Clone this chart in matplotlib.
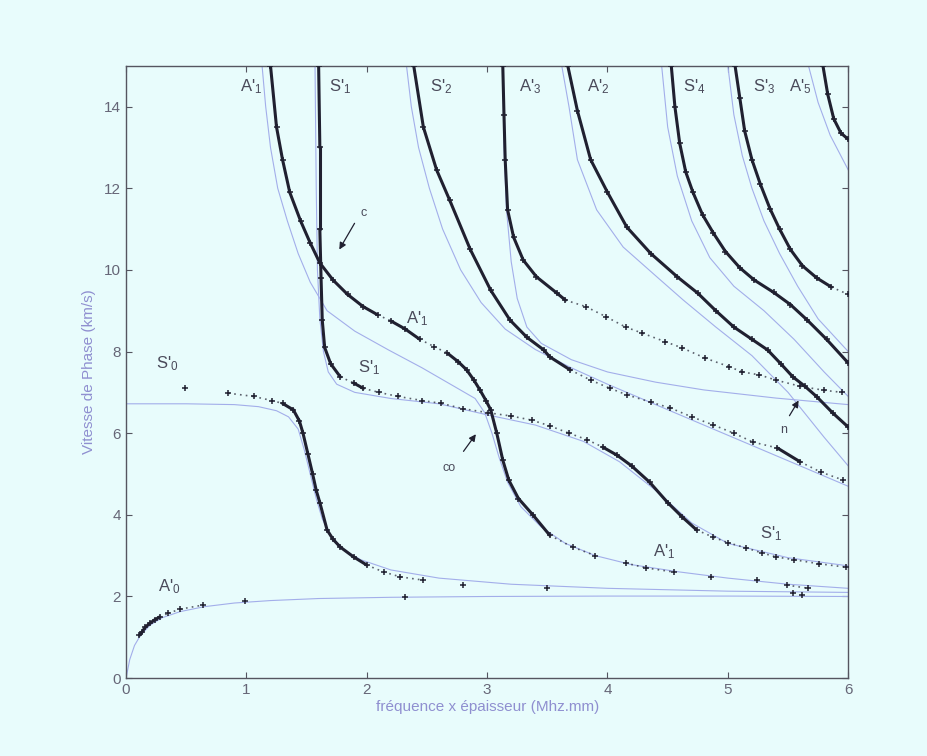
import matplotlib
matplotlib.use("Agg")
import matplotlib.pyplot as plt
import numpy as np

plt.rcParams["font.family"] = ["Liberation Sans", "DejaVu Sans"]
plt.rcParams["mathtext.default"] = "regular"

BG = "#e8fcfc"
INK = "#202030"
BLUE = "#a3aeea"

# --- black "+" branches (measured / model 1) ---
a0_x = [0.11, 0.13, 0.16, 0.20, 0.24, 0.28, 0.35, 0.45, 0.64, 0.99]
a0_y = [1.05, 1.12, 1.25, 1.35, 1.43, 1.50, 1.59, 1.69, 1.79, 1.88]
a0_extra_x = [2.32, 5.62]
a0_extra_y = [1.99, 2.03]

s0_x = [0.49, 0.85, 1.06, 1.21, 1.30, 1.39, 1.44, 1.47, 1.51, 1.55, 1.58, 1.61,
        1.67, 1.72, 1.78, 1.89, 2.00, 2.14, 2.28, 2.47, 2.80]
s0_y = [7.10, 6.98, 6.90, 6.80, 6.73, 6.57, 6.30, 6.00, 5.50, 5.00, 4.60, 4.30,
        3.63, 3.40, 3.21, 2.97, 2.77, 2.60, 2.48, 2.40, 2.28]
s0_extra_x = [3.50, 5.54]
s0_extra_y = [2.20, 2.08]

a1_x = [1.20, 1.25, 1.30, 1.36, 1.45, 1.53, 1.61, 1.72, 1.84, 1.97, 2.09, 2.20,
        2.32, 2.44, 2.56, 2.67, 2.76, 2.83, 2.89, 2.94, 2.99, 3.03, 3.08, 3.13,
        3.18, 3.26, 3.38, 3.52, 3.71, 3.90, 4.15, 4.32, 4.55, 4.86, 5.24, 5.49, 5.67]
a1_y = [15.0, 13.5, 12.7, 11.9, 11.2, 10.66, 10.17, 9.75, 9.40, 9.10, 8.90, 8.75,
        8.55, 8.30, 8.12, 7.96, 7.75, 7.55, 7.30, 7.06, 6.80, 6.57, 6.00, 5.34,
        4.85, 4.40, 4.00, 3.50, 3.21, 3.00, 2.82, 2.70, 2.60, 2.48, 2.40, 2.28, 2.20]

s1_x = [1.60, 1.61, 1.61, 1.62, 1.63, 1.65, 1.70, 1.78, 1.89, 1.97, 2.10, 2.26,
        2.46, 2.62, 2.80, 3.01, 3.20, 3.37, 3.52, 3.68, 3.83, 3.96, 4.08, 4.20,
        4.35, 4.50, 4.62, 4.74, 4.88, 5.00, 5.15, 5.28, 5.40, 5.55, 5.76, 5.98]
s1_y = [15.0, 13.0, 11.0, 9.80, 8.77, 8.10, 7.70, 7.38, 7.23, 7.10, 7.00, 6.90,
        6.80, 6.73, 6.60, 6.50, 6.42, 6.32, 6.18, 6.00, 5.84, 5.66, 5.46, 5.20,
        4.80, 4.30, 3.95, 3.63, 3.45, 3.32, 3.19, 3.07, 2.97, 2.90, 2.80, 2.72]

s2_x = [2.39, 2.47, 2.58, 2.69, 2.86, 3.03, 3.19, 3.33, 3.47, 3.52, 3.69, 3.86,
        4.02, 4.16, 4.36, 4.52, 4.70, 4.88, 5.05, 5.21, 5.41, 5.60, 5.77, 5.96]
s2_y = [15.0, 13.5, 12.45, 11.7, 10.5, 9.50, 8.77, 8.35, 8.04, 7.87, 7.55, 7.30,
        7.10, 6.94, 6.76, 6.62, 6.40, 6.20, 6.00, 5.78, 5.64, 5.30, 5.05, 4.85]

a3_x = [3.13, 3.14, 3.15, 3.17, 3.22, 3.30, 3.41, 3.58, 3.65, 3.82, 3.99, 4.15,
        4.29, 4.48, 4.62, 4.81, 5.01, 5.12, 5.26, 5.40, 5.60, 5.80, 5.95]
a3_y = [15.0, 13.8, 12.7, 11.47, 10.8, 10.24, 9.83, 9.43, 9.26, 9.10, 8.85, 8.60,
        8.45, 8.24, 8.09, 7.84, 7.63, 7.50, 7.43, 7.30, 7.15, 7.05, 7.00]

a2_x = [3.67, 3.75, 3.86, 4.00, 4.16, 4.36, 4.58, 4.75, 4.90, 5.05, 5.20, 5.33,
        5.44, 5.54, 5.64, 5.74, 5.87, 6.00]
a2_y = [15.0, 13.9, 12.7, 11.9, 11.05, 10.4, 9.83, 9.43, 9.00, 8.60, 8.30, 8.04,
        7.70, 7.38, 7.15, 6.89, 6.50, 6.15]

s4_x = [4.53, 4.56, 4.60, 4.65, 4.71, 4.79, 4.88, 4.98, 5.10, 5.22, 5.38, 5.52,
        5.66, 5.82, 6.00]
s4_y = [15.0, 14.0, 13.1, 12.4, 11.9, 11.35, 10.9, 10.45, 10.05, 9.75, 9.45, 9.15,
        8.77, 8.30, 7.72]

s3_x = [5.06, 5.10, 5.14, 5.20, 5.27, 5.35, 5.43, 5.52, 5.62, 5.74, 5.86, 6.00]
s3_y = [15.0, 14.2, 13.4, 12.7, 12.1, 11.5, 11.0, 10.5, 10.1, 9.80, 9.58, 9.40]

a5_x = [5.79, 5.83, 5.88, 5.94, 6.00]
a5_y = [15.0, 14.3, 13.7, 13.35, 13.2]

# --- thin blue branches (model 2) ---
b_a0_x = [0.0, 0.03, 0.07, 0.12, 0.20, 0.30, 0.45, 0.65, 0.90, 1.20, 1.60, 2.20, 3.0, 4.0, 5.0, 6.0]
b_a0_y = [0.0, 0.45, 0.80, 1.05, 1.30, 1.48, 1.63, 1.75, 1.84, 1.90, 1.95, 1.98, 2.0, 2.01, 2.01, 2.0]

b_s0_x = [0.0, 0.5, 0.9, 1.1, 1.25, 1.35, 1.43, 1.48, 1.53, 1.58, 1.63, 1.70, 1.80,
          1.95, 2.2, 2.6, 3.2, 4.0, 5.0, 6.0]
b_s0_y = [6.72, 6.72, 6.70, 6.65, 6.55, 6.40, 6.10, 5.60, 5.00, 4.40, 3.90, 3.50, 3.15,
          2.90, 2.65, 2.45, 2.30, 2.20, 2.13, 2.10]

b_a1_x = [1.13, 1.16, 1.20, 1.26, 1.34, 1.43, 1.53, 1.67, 1.90, 2.18, 2.46, 2.73, 2.90,
          2.98, 3.04, 3.10, 3.17, 3.28, 3.45, 3.65, 3.90, 4.20, 4.60, 5.0, 5.5, 6.0]
b_a1_y = [15.0, 14.0, 13.0, 12.0, 11.2, 10.4, 9.70, 9.00, 8.50, 8.04, 7.60, 7.14, 6.85,
          6.50, 6.00, 5.40, 4.80, 4.20, 3.70, 3.30, 3.00, 2.78, 2.60, 2.45, 2.30, 2.20]

b_s1_x = [1.57, 1.58, 1.59, 1.61, 1.64, 1.68, 1.75, 1.90, 2.2, 2.6, 3.0, 3.4, 3.8,
          4.1, 4.4, 4.7, 5.0, 5.5, 6.0]
b_s1_y = [15.0, 12.0, 10.0, 8.80, 8.00, 7.50, 7.20, 7.00, 6.85, 6.72, 6.45, 6.20, 5.80,
          5.30, 4.60, 3.80, 3.30, 2.95, 2.75]

b_s2_x = [2.33, 2.37, 2.43, 2.52, 2.63, 2.78, 2.95, 3.15, 3.40, 3.70, 4.0, 4.4, 4.8,
          5.2, 5.6, 6.0]
b_s2_y = [15.0, 14.0, 13.0, 12.0, 11.0, 10.0, 9.20, 8.55, 8.05, 7.60, 7.20, 6.70, 6.20,
          5.70, 5.20, 4.70]

b_a3_x = [3.13, 3.14, 3.16, 3.20, 3.25, 3.33, 3.45, 3.70, 4.0, 4.4, 4.8, 5.4, 6.0]
b_a3_y = [15.0, 13.0, 11.5, 10.2, 9.30, 8.60, 8.20, 7.80, 7.50, 7.25, 7.06, 6.86, 6.70]

b_a2_x = [3.62, 3.68, 3.75, 3.91, 4.13, 4.41, 4.63, 4.90, 5.20, 5.50, 5.80, 6.0]
b_a2_y = [15.0, 14.0, 12.7, 11.47, 10.56, 9.83, 9.26, 8.60, 7.90, 7.00, 5.90, 5.20]

b_s4_x = [4.45, 4.50, 4.58, 4.70, 4.85, 5.05, 5.30, 5.55, 5.80, 6.0]
b_s4_y = [15.0, 13.5, 12.3, 11.2, 10.3, 9.60, 9.00, 8.30, 7.50, 6.90]

b_s3_x = [5.00, 5.05, 5.12, 5.20, 5.30, 5.43, 5.58, 5.75, 6.0]
b_s3_y = [15.0, 13.8, 12.8, 12.0, 11.2, 10.4, 9.60, 8.80, 8.00]

b_a5_x = [5.67, 5.75, 5.85, 6.0]
b_a5_y = [15.0, 14.1, 13.3, 12.45]

# branch labels: (text, x, y)
labels = [
    ("A$'_1$", 1.04, 14.5), ("S$'_1$", 1.78, 14.5), ("S$'_2$", 2.62, 14.5),
    ("A$'_3$", 3.36, 14.5), ("A$'_2$", 3.92, 14.5), ("S$'_4$", 4.72, 14.5),
    ("S$'_3$", 5.30, 14.5), ("A$'_5$", 5.60, 14.5),
    ("A$'_1$", 2.42, 8.8), ("S$'_1$", 2.02, 7.6), ("S$'_0$", 0.34, 7.7),
    ("A$'_0$", 0.36, 2.25), ("A$'_1$", 4.47, 3.1), ("S$'_1$", 5.36, 3.55),
]

# arrows: (text, text_xy, arrow_tail, arrow_head)
arrows = [
    ("c", (1.97, 11.4), (1.91, 11.2), (1.76, 10.44)),
    ("co", (2.68, 5.15), (2.79, 5.5), (2.92, 6.03)),
    ("n", (5.46, 6.08), (5.50, 6.37), (5.60, 6.86)),
]

fig = plt.figure(figsize=(9.27, 7.56), dpi=100, facecolor=BG)
ax = fig.add_axes([0.136, 0.103, 0.779, 0.810])
ax.set_facecolor(BG)
ax.set_xlim(0, 6)
ax.set_ylim(0, 15)

for bx, by in [(b_a0_x, b_a0_y), (b_s0_x, b_s0_y), (b_a1_x, b_a1_y), (b_s1_x, b_s1_y),
               (b_s2_x, b_s2_y), (b_a3_x, b_a3_y), (b_a2_x, b_a2_y), (b_s4_x, b_s4_y),
               (b_s3_x, b_s3_y), (b_a5_x, b_a5_y)]:
    ax.plot(bx, by, color=BLUE, lw=0.8, zorder=2)


def draw_branch(xs, ys):
    # steep stretches are sampled so densely they read as a solid line,
    # flatter ones as a row of separate crosses
    pts = ax.transData.transform(np.column_stack([xs, ys]))
    for i in range(len(xs) - 1):
        dx, dy = pts[i + 1] - pts[i]
        if abs(dy) > 0.55 * abs(dx):
            ax.plot(xs[i:i + 2], ys[i:i + 2], color=INK, lw=2.2,
                    solid_capstyle="round", zorder=3)
        elif np.hypot(dx, dy) < 30:
            ax.plot(xs[i:i + 2], ys[i:i + 2], color=INK, lw=1.2, alpha=0.7,
                    ls=(0, (1, 2.5)), zorder=3)
    ax.plot(xs, ys, ls="none", marker="+", ms=5, mew=1.1, color=INK, zorder=4)


for bx, by in [(a0_x, a0_y), (s0_x, s0_y), (a1_x, a1_y), (s1_x, s1_y), (s2_x, s2_y),
               (a3_x, a3_y), (a2_x, a2_y), (s4_x, s4_y), (s3_x, s3_y), (a5_x, a5_y)]:
    draw_branch(bx, by)

ax.plot(a0_extra_x, a0_extra_y, ls="none", marker="+", ms=5, mew=1.1, color=INK)
ax.plot(s0_extra_x, s0_extra_y, ls="none", marker="+", ms=5, mew=1.1, color=INK)

for txt, x, y in labels:
    ax.text(x, y, txt, fontsize=12, color="#4a4a5a", ha="center", va="center", zorder=5)

for txt, txy, tail, head in arrows:
    ax.annotate("", xy=head, xytext=tail,
                arrowprops=dict(arrowstyle="-|>", color=INK, lw=0.9, mutation_scale=10))
    ax.text(txy[0], txy[1], txt, fontsize=9, color="#4a4a5a", ha="center", va="center")

ax.set_xticks(range(0, 7))
ax.set_yticks(range(0, 15, 2))
ax.tick_params(direction="in", top=True, right=True, length=4, width=0.8,
               colors="#555560", labelsize=11, labelcolor="#666677")
for sp in ax.spines.values():
    sp.set_color("#555560")
    sp.set_linewidth(1.0)

ax.set_xlabel("fréquence x épaisseur (Mhz.mm)", fontsize=11, color="#8f8fd0", labelpad=2)
ax.set_ylabel("Vitesse de Phase (km/s)", fontsize=11, color="#8f8fd0", labelpad=6)

fig.savefig("out.png", dpi=100, facecolor=BG)
